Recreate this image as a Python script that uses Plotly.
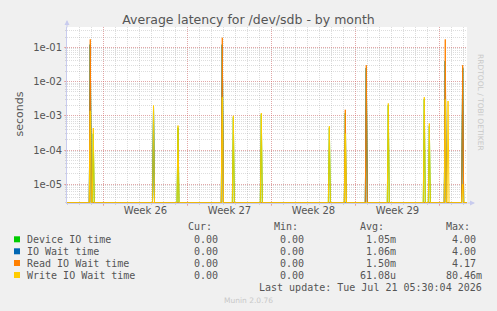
import plotly.graph_objects as go

# ---- time axis: days relative to Monday 2026-06-22 00:00 (start of ISO week 26)
X_START, X_END = -3.04, 30.29
WEEK_STARTS = [0, 7, 14, 21, 28]
WEEK_LABEL_POS = [3.5, 10.5, 17.5, 24.5]
WEEK_LABELS = ["Week 26", "Week 27", "Week 28", "Week 29"]

# ---- value axis (log, seconds)
Y_LOG_RANGE = [-5.546, -0.407]
Y_TICKS = [1e-5, 1e-4, 1e-3, 1e-2, 1e-1]
Y_TICK_LABELS = ["1e-05", "1e-04", "1e-03", "1e-02", "1e-01"]
ZERO_LEVEL = 10 ** -5.54   # where zero samples are drawn on the log scale

# ---- series: spike times (days) and peak values (seconds)
device_t = [-1.10, -0.85, 4.17, 6.21, 9.90, 10.82, 13.15, 18.82, 20.15, 21.90, 23.73, 26.73, 27.15, 28.48, 29.93]
device_v = [0.12, 3.0e-4, 1.8e-3, 4.5e-4, 0.12, 9.0e-4, 1.1e-3, 4.5e-4, 1.2e-3, 2.5e-2, 2.0e-3, 3.0e-3, 5.0e-4, 4.0e-2, 2.5e-2]

iowait_t = [-1.10, 4.17, 9.90, 21.90, 28.48, 29.93]
iowait_v = [0.12, 1.7e-3, 0.12, 2.5e-2, 4.0e-2, 2.5e-2]

read_t = [-1.10, 9.90, 20.15, 21.90, 28.48, 29.93]
read_v = [0.17, 0.19, 1.5e-3, 3.0e-2, 0.17, 3.0e-2]

write_t = [-1.10, -0.85, 4.17, 6.21, 9.90, 10.82, 13.15, 18.82, 20.15, 23.73, 26.73, 27.15, 28.48, 28.71, 29.93]
write_v = [1.4e-3, 4.4e-4, 2.0e-3, 5.2e-4, 3.5e-3, 1.0e-3, 1.2e-3, 5.0e-4, 3.0e-4, 2.3e-3, 3.5e-3, 6.0e-4, 3.0e-3, 2.7e-3, 1.0e-5]

SAMPLE_STEP = 1 / 12  # 2-hour consolidation

# ---- legend table
SERIES_NAMES = ["Device IO time", "IO Wait time", "Read IO Wait time", "Write IO Wait time"]
SERIES_COLORS = ["#00CC00", "#0066B3", "#FF8000", "#FFCC00"]
CUR = ["0.00", "0.00", "0.00", "0.00"]
MIN = ["0.00", "0.00", "0.00", "0.00"]
AVG = ["1.05m", "1.06m", "1.50m", "61.08u"]
MAX = ["4.00", "4.00", "4.17", "80.46m"]
HEADERS = ["Cur:", "Min:", "Avg:", "Max:"]
LAST_UPDATE = "Last update: Tue Jul 21 05:30:04 2026"

# ---- geometry (pixels)
W_PX, H_PX = 497, 311
L, R, T, B = 67, 30, 27, 108
PW, PH = W_PX - L - R, H_PX - T - B
TEXT = "#555555"


def paper(xp, yp):
    return (xp - L) / PW, (H_PX - B - yp) / PH


def spikes(ts, vs):
    xs, ys = [X_START - 1], [ZERO_LEVEL]
    for t, v in zip(ts, vs):
        xs += [t - SAMPLE_STEP, t, t + SAMPLE_STEP]
        ys += [ZERO_LEVEL, v, ZERO_LEVEL]
    xs.append(X_END + 1)
    ys.append(ZERO_LEVEL)
    return xs, ys


fig = go.Figure()
for name, color, (ts, vs) in zip(
    SERIES_NAMES, SERIES_COLORS,
    [(device_t, device_v), (iowait_t, iowait_v), (read_t, read_v), (write_t, write_v)],
):
    xs, ys = spikes(ts, vs)
    fig.add_trace(go.Scatter(x=xs, y=ys, mode="lines", name=name,
                             line=dict(color=color, width=1), hoverinfo="skip",
                             showlegend=False))

# invisible trace to carry the label axis
fig.add_trace(go.Scatter(x=[None], y=[None], xaxis="x2", showlegend=False, hoverinfo="skip"))

MAJOR = "rgba(233,95,95,0.42)"
MINOR = "rgba(143,143,143,0.3)"
AXIS = "#C8CBEE"

fig.update_layout(
    width=W_PX, height=H_PX,
    margin=dict(l=L, r=R, t=T, b=B),
    paper_bgcolor="#F0F0F0", plot_bgcolor="#FFFFFF",
    font=dict(family="DejaVu Sans", size=10, color=TEXT),
    title=dict(text="Average latency for /dev/sdb - by month", x=0.5, xanchor="center",
               y=1 - 19.5 / H_PX, yanchor="middle", xref="container", yref="container",
               font=dict(family="DejaVu Sans", size=12.5, color=TEXT)),
    xaxis=dict(range=[X_START, X_END], tickvals=WEEK_STARTS, showticklabels=False,
               showgrid=True, gridcolor=MAJOR, griddash="1px,1px", gridwidth=1,
               ticks="outside", ticklen=2, tickcolor=MAJOR,
               minor=dict(dtick=1, tick0=0, showgrid=True, gridcolor=MINOR, griddash="1px,1px",
                          ticks="outside", ticklen=1, tickcolor=MINOR),
               showline=True, linecolor=AXIS, linewidth=1, zeroline=False, fixedrange=True),
    xaxis2=dict(range=[X_START, X_END], overlaying="x", anchor="y", side="bottom",
                tickvals=WEEK_LABEL_POS, ticktext=WEEK_LABELS, showgrid=False, ticks="",
                zeroline=False, showline=False,
                tickfont=dict(family="DejaVu Sans", size=10, color=TEXT)),
    yaxis=dict(type="log", range=Y_LOG_RANGE, tickvals=Y_TICKS, ticktext=Y_TICK_LABELS,
               showgrid=True, gridcolor=MAJOR, griddash="1px,1px", gridwidth=1,
               ticks="outside", ticklen=2, tickcolor=MAJOR,
               minor=dict(dtick="D1", showgrid=True, gridcolor=MINOR, griddash="1px,1px",
                          ticks="outside", ticklen=1, tickcolor=MINOR),
               showline=True, linecolor=AXIS, linewidth=1, zeroline=False,
               tickfont=dict(family="DejaVu Sans", size=10, color=TEXT), fixedrange=True),
)

ann = []
# y-axis title
x0, y0 = paper(11, 114)
ann.append(dict(text="seconds", x=x0, y=y0, xref="paper", yref="paper", showarrow=False,
                textangle=-90, font=dict(family="DejaVu Sans", size=11, color=TEXT)))
# vertical credit
x0, y0 = paper(487, 52)
ann.append(dict(text="RRDTOOL / TOBI OETIKER", x=x0, y=y0, xref="paper", yref="paper",
                showarrow=False, textangle=90,
                font=dict(family="DejaVu Sans", size=7.5, color="#C8C8C8")))
# axis arrows
hx, hy = paper(67, 20)
ann.append(dict(text="", x=hx, y=hy, xref="paper", yref="paper", showarrow=True,
                ax=0, ay=9, arrowhead=2, arrowsize=1, arrowwidth=1, arrowcolor=AXIS))
hx, hy = paper(475, 203)
ann.append(dict(text="", x=hx, y=hy, xref="paper", yref="paper", showarrow=True,
                ax=-9, ay=0, arrowhead=2, arrowsize=1, arrowwidth=1, arrowcolor=AXIS))

MONO = dict(family="DejaVu Sans Mono", size=10, color=TEXT)
COL_RIGHT = [225, 311, 397, 483]
HEADER_Y = 226.7
ROW_Y = [239.3, 251.3, 263.0, 275.0]

for cr, h in zip(COL_RIGHT, HEADERS):
    x0, y0 = paper(cr - 12.3, HEADER_Y)
    ann.append(dict(text=h, x=x0, y=y0, xref="paper", yref="paper", showarrow=False,
                    xanchor="right", yanchor="middle", borderpad=0, font=MONO))

shapes = []
for i, (name, color) in enumerate(zip(SERIES_NAMES, SERIES_COLORS)):
    ry = ROW_Y[i]
    x0, y0 = paper(14, ry + 3)
    x1, y1 = paper(20, ry - 3)
    shapes.append(dict(type="rect", xref="paper", yref="paper", x0=x0, y0=y0, x1=x1, y1=y1,
                       fillcolor=color, line=dict(width=0)))
    x0, y0 = paper(26, ry)
    ann.append(dict(text=name, x=x0, y=y0, xref="paper", yref="paper", showarrow=False,
                    xanchor="left", yanchor="middle", borderpad=0, font=MONO))
    for cr, vals in zip(COL_RIGHT, [CUR, MIN, AVG, MAX]):
        v = vals[i]
        right = cr if v[-1].isalpha() else cr - 6
        x0, y0 = paper(right, ry)
        ann.append(dict(text=v, x=x0, y=y0, xref="paper", yref="paper", showarrow=False,
                        xanchor="right", yanchor="middle", borderpad=0, font=MONO))

x0, y0 = paper(482.5, 287.3)
ann.append(dict(text=LAST_UPDATE, x=x0, y=y0, xref="paper", yref="paper", showarrow=False,
                xanchor="right", yanchor="middle", borderpad=0, font=MONO))
x0, y0 = paper(248, 300)
ann.append(dict(text="Munin 2.0.76", x=x0, y=y0, xref="paper", yref="paper", showarrow=False,
                xanchor="center", yanchor="middle",
                font=dict(family="DejaVu Sans", size=7.5, color="#C8C8C8")))

fig.update_layout(annotations=ann, shapes=shapes)
fig.write_html("out.html")
